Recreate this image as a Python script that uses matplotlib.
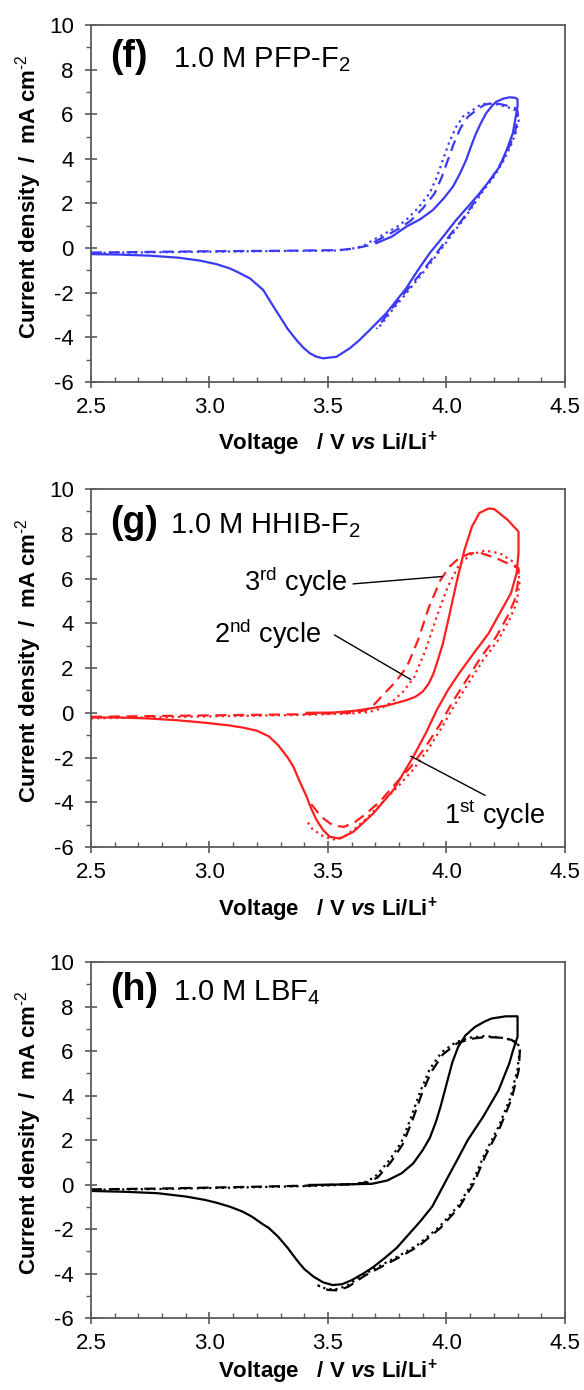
import matplotlib as mpl
mpl.use('Agg')
import matplotlib.pyplot as plt
from matplotlib.ticker import MultipleLocator, FormatStrFormatter

plt.rcParams['font.family'] = ['Liberation Sans', 'DejaVu Sans']
plt.rcParams['mathtext.fontset'] = 'custom'
plt.rcParams['mathtext.rm'] = 'Liberation Sans'
plt.rcParams['mathtext.it'] = 'Liberation Sans:italic:bold'
plt.rcParams['mathtext.bf'] = 'Liberation Sans:bold'
plt.rcParams['mathtext.default'] = 'regular'
plt.rcParams['axes.unicode_minus'] = False

# ---- (f) 1.0 M PFP-F2 ----
f_v1 = [3.704, 3.77, 3.83, 3.89, 3.943, 3.99, 4.027, 4.055, 4.083, 4.105, 4.125, 4.145, 4.167,
        4.19, 4.21, 4.24, 4.266, 4.29, 4.30,
        4.30, 4.28, 4.254, 4.224, 4.18, 4.14, 4.09, 4.041, 3.985, 3.929, 3.88, 3.83, 3.746,
        3.676, 3.63, 3.592, 3.536, 3.48, 3.45, 3.423, 3.395, 3.367, 3.33, 3.297, 3.26, 3.227,
        3.171, 3.12, 3.086, 3.03, 2.96, 2.87, 2.75, 2.62, 2.5]
f_i1 = [0.22, 0.52, 0.96, 1.30, 1.71, 2.25, 2.75, 3.30, 3.95, 4.60, 5.15, 5.60, 6.04,
        6.35, 6.56, 6.70, 6.76, 6.74, 6.67,
        6.35, 5.15, 4.40, 3.65, 3.00, 2.46, 1.85, 1.26, 0.50, -0.23, -0.98, -1.80, -2.92,
        -3.67, -4.15, -4.49, -4.87, -4.94, -4.86, -4.71, -4.45, -4.12, -3.62, -3.07, -2.45, -1.88,
        -1.36, -1.08, -0.91, -0.72, -0.56, -0.43, -0.34, -0.29, -0.27]
f_v2 = [2.5, 2.75, 3.0, 3.3, 3.53, 3.60, 3.65, 3.69, 3.74, 3.79, 3.83, 3.88, 3.929, 3.96,
        3.985, 4.01, 4.041, 4.07, 4.111, 4.14, 4.167, 4.21, 4.25, 4.28, 4.30,
        4.305, 4.293, 4.27, 4.24, 4.20, 4.15, 4.11, 4.07, 4.027, 3.985, 3.943, 3.89, 3.83,
        3.77, 3.711]
f_i2 = [-0.22, -0.19, -0.16, -0.13, -0.11, -0.03, 0.10, 0.36, 0.65, 0.95, 1.26, 1.80, 2.46, 3.20,
        3.95, 4.70, 5.44, 5.90, 6.19, 6.40, 6.49, 6.45, 6.34, 6.25, 6.10,
        5.75, 5.20, 4.55, 3.90, 3.20, 2.50, 1.86, 1.25, 0.66, 0.05, -0.53, -1.25, -2.03,
        -2.80, -3.60]
f_v3 = [2.5, 2.75, 3.0, 3.3, 3.55, 3.62, 3.67, 3.71, 3.76, 3.81, 3.85, 3.90, 3.95, 3.98,
        4.005, 4.03, 4.06, 4.09, 4.13, 4.16, 4.19, 4.23, 4.265, 4.29, 4.30,
        4.30, 4.29, 4.265, 4.235, 4.195, 4.145, 4.105, 4.065, 4.02, 3.978, 3.936, 3.882, 3.822,
        3.762, 3.705]
f_i3 = [-0.20, -0.17, -0.14, -0.12, -0.09, 0.00, 0.12, 0.36, 0.64, 0.94, 1.24, 1.78, 2.45, 3.18,
        3.92, 4.66, 5.40, 5.88, 6.22, 6.42, 6.50, 6.45, 6.36, 6.28, 6.15,
        5.80, 5.22, 4.55, 3.90, 3.20, 2.50, 1.86, 1.25, 0.66, 0.05, -0.53, -1.25, -2.03,
        -2.80, -3.62]

# ---- (g) 1.0 M HHIB-F2 ----
g_v1 = [3.41, 3.52, 3.614, 3.676, 3.755, 3.833, 3.87, 3.90, 3.925, 3.945, 3.965, 3.985, 4.014,
        4.045, 4.076, 4.108, 4.139, 4.178, 4.202, 4.257, 4.304,
        4.304, 4.296, 4.272, 4.225, 4.178, 4.115, 4.053, 4.006, 3.959, 3.912, 3.86, 3.776,
        3.691, 3.607, 3.55, 3.508, 3.48, 3.452, 3.43, 3.41, 3.38, 3.354, 3.33, 3.29, 3.25,
        3.20, 3.14, 3.08, 2.986, 2.861, 2.735, 2.61, 2.5]
g_i1 = [0.0, 0.01, 0.09, 0.19, 0.34, 0.57, 0.72, 0.95, 1.30, 1.75, 2.40, 3.10, 4.45,
        5.94, 7.28, 8.33, 8.93, 9.13, 9.10, 8.63, 8.10,
        7.13, 6.24, 5.34, 4.45, 3.55, 2.66, 1.76, 1.01, 0.12, -0.93, -1.96, -3.45,
        -4.50, -5.32, -5.62, -5.54, -5.25, -4.79, -4.30, -3.75, -3.05, -2.41, -2.00, -1.45, -1.05,
        -0.80, -0.66, -0.56, -0.45, -0.33, -0.25, -0.21, -0.21]
g_v2 = [2.5, 2.892, 3.363, 3.598, 3.676, 3.723, 3.77, 3.817, 3.865, 3.912, 3.959, 4.006,
        4.053, 4.10, 4.162, 4.225, 4.28, 4.304,
        4.308, 4.296, 4.265, 4.218, 4.155, 4.092, 4.03, 3.982, 3.92, 3.857, 3.794, 3.731,
        3.669, 3.614, 3.567, 3.52, 3.473, 3.433, 3.41]
g_i2 = [-0.25, -0.18, -0.10, -0.03, 0.04, 0.19, 0.49, 0.94, 1.61, 2.81, 4.30, 5.64,
        6.61, 7.06, 7.25, 7.13, 6.76, 6.39,
        5.79, 4.90, 4.15, 3.25, 2.36, 1.31, 0.27, -0.63, -1.67, -2.57, -3.31, -3.98,
        -4.66, -5.18, -5.55, -5.67, -5.48, -5.18, -4.81]
g_v3 = [2.5, 2.892, 3.363, 3.598, 3.661, 3.692, 3.739, 3.786, 3.833, 3.88, 3.927, 3.975,
        4.014, 4.053, 4.10, 4.147, 4.21, 4.272, 4.304,
        4.304, 4.288, 4.257, 4.21, 4.147, 4.084, 4.022, 3.975, 3.912, 3.849, 3.786, 3.724,
        3.661, 3.614, 3.567, 3.52, 3.473, 3.433, 3.418]
g_i3 = [-0.18, -0.13, -0.07, 0.0, 0.12, 0.34, 0.87, 1.39, 2.06, 3.25, 4.75, 5.94,
        6.54, 6.91, 7.13, 7.13, 6.91, 6.61, 6.46,
        5.94, 5.04, 4.30, 3.40, 2.51, 1.46, 0.42, -0.48, -1.52, -2.42, -3.16, -3.91,
        -4.51, -4.88, -5.10, -5.03, -4.66, -4.13, -3.98]

# ---- (h) 1.0 M LBF4 ----
h_v1 = [3.42, 3.55, 3.685, 3.75, 3.81, 3.86, 3.90, 3.93, 3.955, 3.975, 4.0, 4.025, 4.05, 4.08,
        4.12, 4.16, 4.19, 4.25, 4.30,
        4.30, 4.28, 4.265, 4.22, 4.155, 4.09, 4.045, 4.0, 3.94, 3.89, 3.84, 3.79, 3.74,
        3.69, 3.649, 3.60, 3.56, 3.52, 3.48, 3.44, 3.40, 3.368, 3.33, 3.29, 3.25, 3.227,
        3.18, 3.14, 3.087, 3.03, 2.98, 2.90, 2.78, 2.65, 2.5]
h_i1 = [-0.02, 0.0, 0.03, 0.18, 0.50, 0.95, 1.55, 2.10, 2.80, 3.50, 4.50, 5.50, 6.20, 6.70,
        7.08, 7.32, 7.46, 7.56, 7.56,
        6.64, 6.00, 5.44, 4.24, 3.05, 2.00, 1.10, 0.21, -0.99, -1.65, -2.25, -2.85, -3.30,
        -3.72, -4.00, -4.30, -4.48, -4.52, -4.40, -4.15, -3.80, -3.39, -2.85, -2.35, -1.95, -1.80,
        -1.45, -1.22, -1.00, -0.82, -0.69, -0.54, -0.39, -0.33, -0.29]
h_v2 = [2.5, 2.8, 3.1, 3.42, 3.6, 3.66, 3.70, 3.76, 3.81, 3.85, 3.89, 3.93, 3.98, 4.04,
        4.10, 4.16, 4.22, 4.27, 4.30,
        4.31, 4.30, 4.27, 4.22, 4.16, 4.11, 4.05, 3.97, 3.88, 3.80, 3.72, 3.65, 3.58, 3.53,
        3.49, 3.45]
h_i2 = [-0.24, -0.20, -0.14, -0.07, 0.0, 0.12, 0.36, 1.10, 1.90, 3.00, 4.20, 5.20, 5.95, 6.40,
        6.60, 6.67, 6.62, 6.52, 6.35,
        6.10, 5.20, 3.90, 2.60, 1.35, 0.10, -0.95, -1.90, -2.70, -3.20, -3.65, -4.05, -4.55,
        -4.72, -4.68, -4.50]
h_v3 = [2.5, 2.8, 3.1, 3.42, 3.61, 3.67, 3.71, 3.765, 3.815, 3.855, 3.895, 3.935, 3.985, 4.045,
        4.105, 4.165, 4.225, 4.275, 4.30,
        4.31, 4.305, 4.275, 4.225, 4.165, 4.115, 4.055, 3.975, 3.885, 3.805, 3.725, 3.655,
        3.585, 3.54, 3.50, 3.46]
h_i3 = [-0.22, -0.18, -0.12, -0.05, 0.02, 0.10, 0.32, 1.00, 1.80, 2.85, 4.05, 5.05, 5.85, 6.35,
        6.55, 6.63, 6.60, 6.50, 6.30,
        6.05, 5.15, 3.85, 2.55, 1.30, 0.05, -1.00, -1.95, -2.75, -3.25, -3.70, -4.10,
        -4.60, -4.76, -4.74, -4.55]

panels = [
    dict(tag='(f)', title='1.0 M PFP-F$_2$', color='#3a3af5', base=8.13, title_x=2.845,
         xlab_y=-0.135,
         data=[(f_v1, f_i1), (f_v2, f_i2), (f_v3, f_i3)], rect=[0.1558, 0.7252, 0.8116, 0.2568]),
    dict(tag='(g)', title='1.0 M HHIB-F$_2$', color='#ff1f1f', base=8.03, title_x=2.835,
         xlab_y=-0.135,
         data=[(g_v1, g_i1), (g_v2, g_i2), (g_v3, g_i3)], rect=[0.1558, 0.3906, 0.8116, 0.2576]),
    dict(tag='(h)', title='1.0 M LBF$_4$', color='black', base=8.30, title_x=2.848,
         xlab_y=-0.112,
         data=[(h_v1, h_i1), (h_v2, h_i2), (h_v3, h_i3)], rect=[0.1558, 0.0518, 0.8116, 0.2561]),
]

# 1st cycle solid, 2nd dotted, 3rd dashed
styles = ['-', (0, (1, 1.8)), (0, (5, 3))]

fig = plt.figure(figsize=(5.84, 13.90), dpi=100)

for p in panels:
    ax = fig.add_axes(p['rect'])
    for (v, i), ls in zip(p['data'], styles):
        ax.plot(v, i, color=p['color'], lw=1.6, linestyle=ls)

    ax.set_xlim(2.5, 4.5)
    ax.set_ylim(-6, 10)
    ax.xaxis.set_major_locator(MultipleLocator(0.5))
    ax.xaxis.set_minor_locator(MultipleLocator(0.1))
    ax.xaxis.set_major_formatter(FormatStrFormatter('%.1f'))
    ax.yaxis.set_major_locator(MultipleLocator(2))
    ax.yaxis.set_minor_locator(MultipleLocator(1))

    for s in ax.spines.values():
        s.set_color('#5a5a5a')
        s.set_linewidth(1.3)
    ax.tick_params(which='major', direction='inout', length=9, width=1.2,
                   color='#5a5a5a', labelsize=16)
    ax.tick_params(axis='x', which='major', pad=6)
    ax.tick_params(axis='y', which='major', pad=8)
    ax.tick_params(axis='x', which='minor', direction='in', length=3.8, width=1.0, color='#5a5a5a')
    ax.tick_params(axis='y', which='minor', direction='out', length=3.8, width=1.0, color='#5a5a5a')

    ax.set_xlabel('Voltage   / V $\\mathit{vs}$ Li/Li$^{+}$', fontsize=16, fontweight='bold')
    ax.set_ylabel('Current density  /  mA cm$^{\\text{-2}}$', fontsize=16, fontweight='bold')
    ax.xaxis.set_label_coords(0.5, p['xlab_y'])
    ax.yaxis.set_label_coords(-0.10, 0.52)

    ax.text(2.58, p['base'], p['tag'], fontsize=27, fontweight='bold', va='baseline')
    ax.text(p['title_x'], p['base'], p['title'], fontsize=21, va='baseline')

    if p['tag'] == '(g)':
        line = dict(arrowstyle='-', color='black', lw=1.0, shrinkA=0, shrinkB=0)
        ax.text(3.146, 5.42, '3$^{rd}$ cycle', fontsize=19.5, va='baseline')
        ax.annotate('', xy=(3.982, 6.09), xytext=(3.606, 5.76), arrowprops=line)
        ax.text(3.018, 3.10, '2$^{nd}$ cycle', fontsize=19.5, va='baseline')
        ax.annotate('', xy=(3.849, 1.49), xytext=(3.527, 3.48), arrowprops=line)
        ax.text(3.99, -4.96, '1$^{st}$ cycle', fontsize=19.5, va='baseline')
        ax.annotate('', xy=(3.849, -1.94), xytext=(4.163, -3.69), arrowprops=line)

fig.savefig('out.png', dpi=100)
